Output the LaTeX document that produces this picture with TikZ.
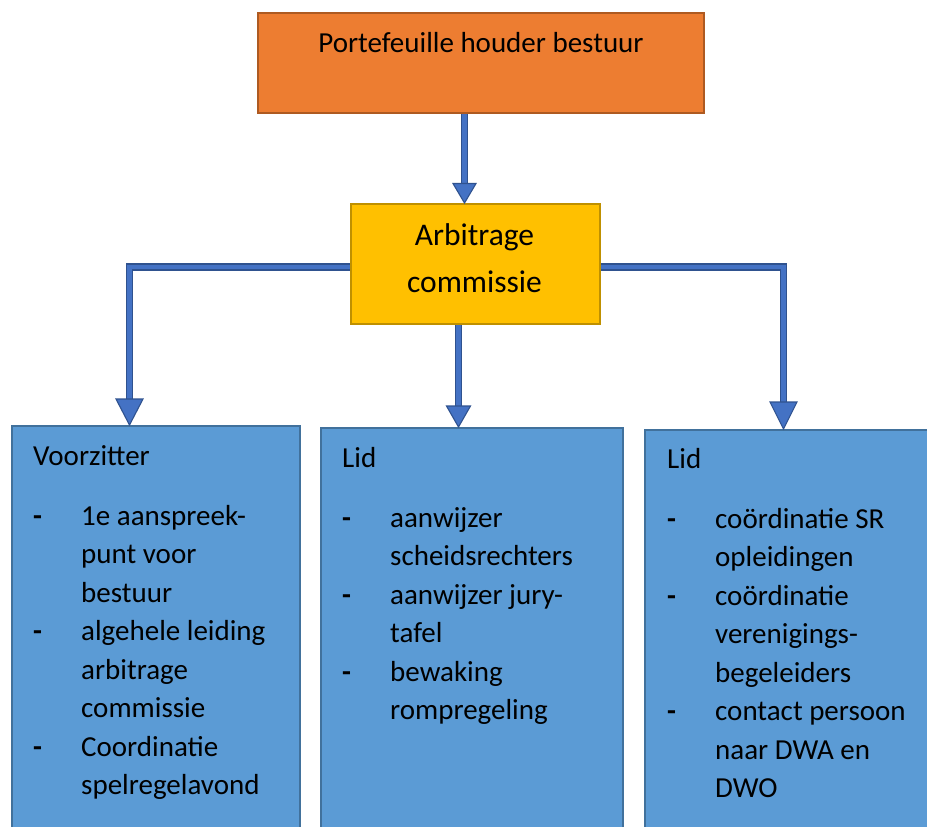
\documentclass[tikz,border=0pt]{standalone}
\usepackage{fontspec}
\setmainfont{Carlito}
\usetikzlibrary{calc}
\definecolor{orfill}{HTML}{ED7D31}
\definecolor{ordraw}{HTML}{AE5A21}
\definecolor{yefill}{HTML}{FFC000}
\definecolor{yedraw}{HTML}{BF9000}
\definecolor{blfill}{HTML}{5B9BD5}
\definecolor{bldraw}{HTML}{41719C}
\definecolor{arfill}{HTML}{4472C4}
\definecolor{ardraw}{HTML}{2F528F}
\newcommand\hditem[1]{\makebox[48pt][l]{\textbf{-}}#1}
\newcommand\ctitem[1]{\hspace*{48pt}#1}
\begin{document}
\begin{tikzpicture}[x=1pt,y=-1pt,
  boxbase/.style={draw, line width=2pt, inner sep=0pt, anchor=north west},
  orbox/.style={boxbase, fill=orfill, draw=ordraw},
  yebox/.style={boxbase, fill=yefill, draw=yedraw},
  blbox/.style={boxbase, fill=blfill, draw=bldraw, line width=1.8pt},
  txt/.style={inner sep=0pt, text=black, font=\fontsize{29}{38.5}\selectfont},
  bigtxt/.style={inner sep=0pt, text=black, font=\fontsize{31.5}{47}\selectfont},
  shaft/.style={draw=ardraw, line width=1.4pt, double=arfill, double distance=4.6pt},
  head/.style={fill=arfill, draw=ardraw, line width=1.1pt, line join=miter}
]
\useasboundingbox (0,0) rectangle (927,827);
\clip (0,0) rectangle (927,827);
\fill[white] (0,0) rectangle (927,827);

% boxes
\node[orbox, minimum width=446pt, minimum height=100pt] (top) at (257,12) {};
\node[yebox, minimum width=249pt, minimum height=120pt] (arb) at (350,203) {};
\node[blbox, minimum width=288pt, minimum height=410pt] (vz) at (11,425) {};
\node[blbox, minimum width=302pt, minimum height=410pt] (l1) at (320,427) {};
\node[blbox, minimum width=291pt, minimum height=410pt] (l2) at (644,429) {};

% texts
\node[txt, anchor=base] (toptxt) at ($(top.north)+(0,40)$) {Portefeuille houder bestuur};
\node[bigtxt, anchor=base] (arbtxt) at ($(arb.north west)+(124.5,42)$)
  {\parbox[t]{240pt}{\centering Arbitrage\\commissie}};

\node[txt, anchor=base west] (vztxt) at ($(vz.north west)+(22,40)$)
  {\parbox[t]{275pt}{Voorzitter\\[21.5pt]
   \hditem{1e aanspreek-}\\
   \ctitem{punt voor}\\
   \ctitem{bestuur}\\
   \hditem{algehele leiding}\\
   \ctitem{arbitrage}\\
   \ctitem{commissie}\\
   \hditem{Coordinatie}\\
   \ctitem{spelregelavond}}};

\node[txt, anchor=base west] (l1txt) at ($(l1.north west)+(22,40)$)
  {\parbox[t]{280pt}{Lid\\[21.5pt]
   \hditem{aanwijzer}\\
   \ctitem{scheidsrechters}\\
   \hditem{aanwijzer jury-}\\
   \ctitem{tafel}\\
   \hditem{bewaking}\\
   \ctitem{rompregeling}}};

\node[txt, anchor=base west] (l2txt) at ($(l2.north west)+(23,39)$)
  {\parbox[t]{270pt}{Lid\\[21.5pt]
   \hditem{coördinatie SR}\\
   \ctitem{opleidingen}\\
   \hditem{coördinatie}\\
   \ctitem{verenigings-}\\
   \ctitem{begeleiders}\\
   \hditem{contact persoon}\\
   \ctitem{naar DWA en}\\
   \ctitem{DWO}}};

% connectors
\draw[shaft] ($(top.south west)+(207.5,0)$) -- ($(arb.north west)+(114.5,-17)$);
\filldraw[head] ($(arb.north west)+(114.5,0)$) -- ++(-11.5,-19.5) -- ++(23,0) -- cycle;

\draw[shaft] ($(arb.west)+(0,3)$) -| ($(vz.north west)+(118.5,-23)$);
\filldraw[head] ($(vz.north west)+(118.5,0)$) -- ++(-13.5,-26) -- ++(27,0) -- cycle;

\draw[shaft] ($(arb.south west)+(108.5,0)$) -- ($(l1.north west)+(138.5,-18)$);
\filldraw[head] ($(l1.north west)+(138.5,0)$) -- ++(-12,-21) -- ++(24,0) -- cycle;

\draw[shaft] ($(arb.east)+(0,3)$) -| ($(l2.north west)+(139.5,-24)$);
\filldraw[head] ($(l2.north west)+(139.5,0)$) -- ++(-13.5,-27) -- ++(27,0) -- cycle;
\end{tikzpicture}
\end{document}
